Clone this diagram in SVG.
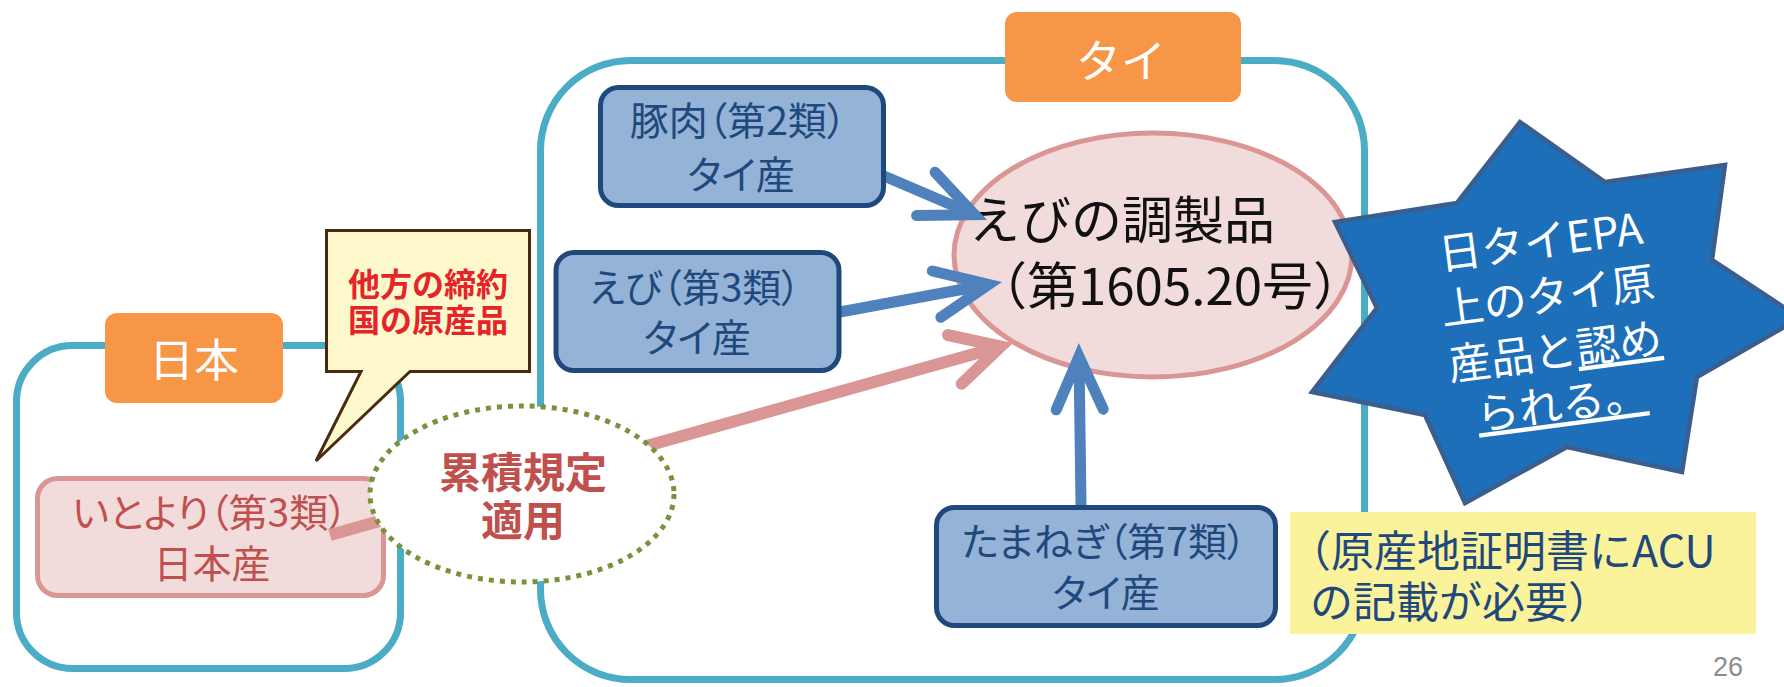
<svg xmlns="http://www.w3.org/2000/svg" width="1784" height="687" viewBox="0 0 1784 687">
<style>
text{font-family:"Noto Sans CJK JP","Noto Sans",sans-serif;}
.region{fill:none;stroke:#4BACC6;stroke-width:7;}
.tag{fill:#F79646;}
.tagtxt{fill:#FFFFFF;font-size:45px;text-anchor:middle;}
.bbox{fill:#95B3D7;stroke:#1F497D;stroke-width:5;}
.btxt{fill:#1F497D;font-size:39px;text-anchor:middle;font-feature-settings:"palt";}
.pbox{fill:#F2DCDB;stroke:#D99694;stroke-width:5;}
.ptxt{fill:#C0504D;font-size:39px;text-anchor:middle;font-feature-settings:"palt";}
.blue{fill:none;stroke:#4F81BD;stroke-width:11;}
.pink{fill:none;stroke:#D99694;stroke-width:12;}
.mid{text-anchor:middle;}
</style>
<defs>
<marker id="ahBlue" markerUnits="strokeWidth" orient="auto" overflow="visible" refX="0" refY="0">
<path d="M-4.82,-2.14 L0,0 L-4.82,2.14" fill="none" stroke="#4F81BD" stroke-width="1" stroke-linecap="round" stroke-linejoin="miter"/>
</marker>
<marker id="ahPink" markerUnits="strokeWidth" orient="auto" overflow="visible" refX="0" refY="0">
<path d="M-3.97,-2.11 L0,0 L-3.97,2.11" fill="none" stroke="#D99694" stroke-width="1" stroke-linecap="round" stroke-linejoin="miter"/>
</marker>
</defs>
<rect width="1784" height="687" fill="#FFFFFF"/>

<g id="japan-region">
<rect class="region" x="16.5" y="345.5" width="384" height="323" rx="56"/>
<rect class="tag" x="105" y="313" width="178" height="90" rx="12"/>
<text class="tagtxt" x="194" y="377">日本</text>
</g>

<g id="thai-region">
<rect class="region" x="540.5" y="60.5" width="824" height="619" rx="90"/>
<rect class="tag" x="1005" y="12" width="236" height="90" rx="12"/>
<text class="tagtxt" x="1121" y="78">タイ</text>
</g>

<g id="callout">
<path d="M326.5,230.5 H529.5 V371.5 H410 L316,461 L361,371.5 H326.5 Z" fill="#FDF9CC" stroke="#4A2B12" stroke-width="3" stroke-linejoin="miter"/>
<text class="mid" fill="#E5232A" font-size="32" font-weight="700"><tspan x="428" y="296">他方の締約</tspan><tspan x="428" y="332">国の原産品</tspan></text>
</g>

<g id="itoyori">
<rect class="pbox" x="37.5" y="478.5" width="346" height="117" rx="20"/>
<text class="ptxt"><tspan x="210" y="527">いとより（第3類）</tspan><tspan x="212" y="578">日本産</tspan></text>
</g>

<g id="product">
<ellipse cx="1153" cy="255" rx="199" ry="122" fill="#F2DCDB" stroke="#D99694" stroke-width="5"/>
<text fill="#111111" font-size="51"><tspan x="969" y="239">えびの調製品</tspan><tspan x="976" y="305">（第1605.20号）</tspan></text>
</g>

<g id="connectors">
<path class="pink" d="M330,535 L1000.7,346.5" marker-end="url(#ahPink)"/>
<path class="blue" d="M884,176 L974.6,214.7" marker-end="url(#ahBlue)"/>
<path class="blue" d="M840,312 L988.7,284.5" marker-end="url(#ahBlue)"/>
<path class="blue" d="M1081,505 L1079,356.5" marker-end="url(#ahBlue)"/>
</g>

<g id="cumulation">
<ellipse cx="522" cy="494" rx="152" ry="88" fill="#FFFFFF" stroke="#77933C" stroke-width="5" stroke-dasharray="5 6"/>
<text class="mid" fill="#C0504D" font-size="42" font-weight="700"><tspan x="523" y="488">累積規定</tspan><tspan x="523" y="536">適用</tspan></text>
</g>

<g id="pork">
<rect class="bbox" x="600.5" y="87.5" width="283" height="118" rx="18"/>
<text class="btxt"><tspan x="738" y="135">豚肉（第2類）</tspan><tspan x="741" y="189">タイ産</tspan></text>
</g>

<g id="shrimp">
<rect class="bbox" x="556" y="252.5" width="283" height="118" rx="18"/>
<text class="btxt"><tspan x="695" y="302">えび（第3類）</tspan><tspan x="697" y="352">タイ産</tspan></text>
</g>

<g id="onion">
<rect class="bbox" x="936.5" y="507.5" width="339" height="118" rx="18"/>
<text class="btxt"><tspan x="1104" y="556">たまねぎ（第7類）</tspan><tspan x="1106" y="607">タイ産</tspan></text>
</g>

<g id="star">
<polygon points="1520,122 1605,182 1725,165 1712,260 1800,318 1697,377 1682,472 1567,447 1465,503 1425,415 1312,392 1377,308 1335,222 1457,203" fill="#1E6FBA" stroke="#3A5F8E" stroke-width="4.5" stroke-linejoin="miter"/>
<text transform="rotate(-7.5 1545 330)" fill="#FFFFFF" font-size="43" text-anchor="middle"><tspan x="1552" y="257">日タイEPA</tspan><tspan x="1552" y="312">上のタイ原</tspan><tspan x="1552" y="368">産品と<tspan text-decoration="underline">認め</tspan></tspan><tspan x="1552" y="421" text-decoration="underline">られる。</tspan></text>
</g>

<g id="note">
<rect x="1290" y="512" width="466" height="122" fill="#FAF39C"/>
<text fill="#1F497D" font-size="43"><tspan x="1288" y="567">（原産地証明書にACU</tspan><tspan x="1310" y="618">の記載が必要）</tspan></text>
</g>

<text x="1713" y="676" fill="#8C8C8C" font-size="27" style="font-family:'Liberation Sans',sans-serif">26</text>
</svg>
